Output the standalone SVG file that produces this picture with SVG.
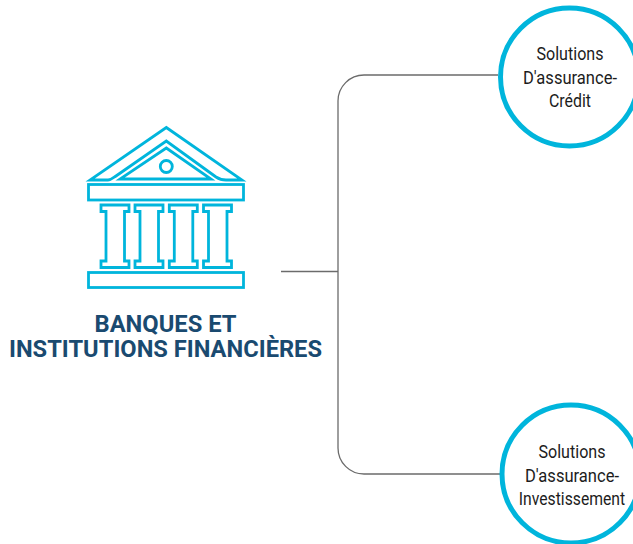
<svg xmlns="http://www.w3.org/2000/svg" width="633" height="544" viewBox="0 0 633 544">
<style>
.ic{fill:none;stroke:#00b5dc;stroke-width:2.800}
.cn{fill:none;stroke:#6b6b6b;stroke-width:1.300}
.ci{fill:#fff;stroke:#00b5dc;stroke-width:5}
.t{font-family:Roboto,"Liberation Sans",sans-serif;font-size:18.500px;fill:#1c1c1c;text-anchor:middle}
.h{font-family:Roboto,"Liberation Sans",sans-serif;font-size:23px;font-weight:700;fill:#1a4a70;text-anchor:middle}
</style>
<defs>
<path id="col" d="M101 205H129V211.500H124.500V261H129V267.500H101V261H106V211.500H101Z"/>
</defs>
<rect width="633" height="544" fill="#fff"/>
<g id="connectors">
<path class="cn" d="M281 271.500H338"/>
<path class="cn" d="M498 75H364A26 26 0 0 0 338 101V448A26 26 0 0 0 364 474H500"/>
</g>
<g id="bank">
<path class="ic" d="M166.300 127.500L242 180H226C222 180 219 179 216 177L166.300 141L116 176C113 178 111 180 108 180H90Z"/>
<path class="ic" d="M166.300 148L211 179H120Z"/>
<circle class="ic" cx="166.300" cy="166.500" r="6"/>
<rect class="ic" x="88.500" y="184.500" width="155" height="15.500"/>
<rect class="ic" x="88.500" y="272.500" width="155" height="15"/>
<use href="#col" class="ic"/>
<use href="#col" class="ic" x="34"/>
<use href="#col" class="ic" x="68.300"/>
<use href="#col" class="ic" x="102.500"/>
</g>
<g id="title">
<text class="h" x="165.500" y="331.500" textLength="142" lengthAdjust="spacingAndGlyphs">BANQUES ET</text>
<text class="h" x="165.500" y="357" textLength="313" lengthAdjust="spacingAndGlyphs">INSTITUTIONS FINANCIÈRES</text>
</g>
<g id="node-credit">
<circle class="ci" cx="569.500" cy="77" r="69"/>
<text class="t" x="570" y="60" textLength="67" lengthAdjust="spacingAndGlyphs">Solutions</text>
<text class="t" x="570" y="83.500" textLength="94" lengthAdjust="spacingAndGlyphs">D'assurance-</text>
<text class="t" x="570" y="107" textLength="42" lengthAdjust="spacingAndGlyphs">Crédit</text>
</g>
<g id="node-investissement">
<circle class="ci" cx="571" cy="474" r="69"/>
<text class="t" x="572" y="458" textLength="67" lengthAdjust="spacingAndGlyphs">Solutions</text>
<text class="t" x="572" y="481.500" textLength="94" lengthAdjust="spacingAndGlyphs">D'assurance-</text>
<text class="t" transform="translate(572 505) scale(.85 1)">Investissement</text>
</g>
</svg>
